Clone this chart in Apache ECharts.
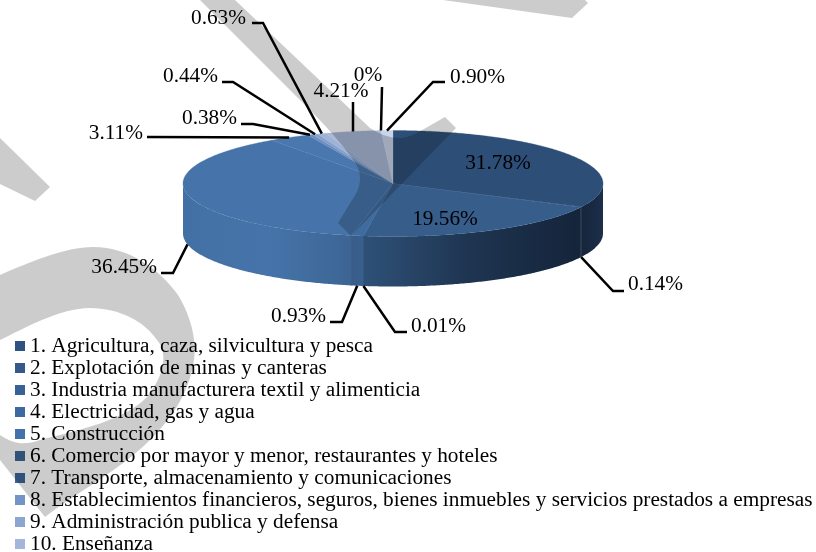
<!DOCTYPE html>
<html><head><meta charset="utf-8">
<style>html,body{margin:0;padding:0;background:#fff}#c{width:816px;height:552px}</style>
<script src="https://cdn.jsdelivr.net/npm/echarts@6/dist/echarts.min.js"></script>
</head><body><div id="c"></div>
<script>
// DATA
const legendNames = [
 '1. Agricultura, caza, silvicultura y pesca',
 '2. Explotación de minas y canteras',
 '3. Industria manufacturera textil y alimenticia',
 '4. Electricidad, gas y agua',
 '5. Construcción',
 '6. Comercio por mayor y menor, restaurantes y hoteles',
 '7. Transporte, almacenamiento y comunicaciones',
 '8. Establecimientos financieros, seguros, bienes inmuebles y servicios prestados a empresas',
 '9. Administración publica y defensa',
 '10. Enseñanza'];
const sliceValues = [31.78,0.14,19.56,0.01,0.93,36.45,3.11,0.38,0.44,0.63,4.21,0,0.90];
const sliceLabels = ['31.78%','0.14%','19.56%','0.01%','0.93%','36.45%','3.11%','0.38%','0.44%','0.63%','4.21%','0%','0.90%'];

// STYLE / LAYOUT
const FONT='"Liberation Serif","Times New Roman",serif', FS=21.3;
const topColors=['#2c4e77','#2f5380','#375d8b','#3a6393','#3f6c9f','#4674aa','#4a78ae','#6b8dc0','#86a0cc','#9eb3d6','#a9b8d6','#bcc9e0','#c8d4e8'];
const legendColors=['#2e5380','#335a8b','#386297','#3d69a0','#4272ac','#3d6595','#3c6598','#7394c5','#8ba6d0','#a3b7d9'];
const sideStops=[['#15253c','#182a42','#1c2f49'],['#15253c','#15253c','#15253c'],['#2e5178','#1e3450','#14243a'],['#2f5379','#2f5379','#2f5379'],['#395e8c','#395e8c','#3a608f'],['#4370a4','#4674aa','#3c6593'],['#4370a4','#4370a4','#4370a4'],['#5a7fb0','#5a7fb0','#5a7fb0'],['#7a95c0','#7a95c0','#7a95c0'],['#8fa6cc','#8fa6cc','#8fa6cc'],['#9aacce','#9aacce','#9aacce'],['#aebcd6','#aebcd6','#aebcd6'],['#bac8de','#bac8de','#bac8de']];
const CX=393, CY=183.5, RX=210, RY=53, DEPTH=50;
// per slice: leader elbow points (from the rim outward), text anchor
const labelLayout=[
 {text:[498,163],align:'center'},
 {pts:[[613,291],[624,291]],text:[628,284],align:'left'},
 {text:[445,219],align:'center'},
 {pts:[[395,332],[407,332]],text:[411,326],align:'left'},
 {pts:[[342,322],[330,322]],text:[326,316],align:'right'},
 {pts:[[173,273],[161,273]],text:[157,267],align:'right'},
 {pts:[[147,137]],text:[143,133],align:'right'},
 {pts:[[253,124],[241,124]],text:[237,118],align:'right'},
 {pts:[[233,82],[222,82]],text:[218,76],align:'right'},
 {pts:[[263,23],[252,23]],text:[246,18],align:'right'},
 {pts:[[353,102]],text:[341,91],align:'center'},
 {pts:[[382,87]],text:[368,75],align:'center'},
 {pts:[[433,82],[445,82]],text:[450,77],align:'left'}];
const watermark=[
 'M443,0 L572,18 L588,3 L585,0 Z',
 'M200,0 L235,0 L370,128 Q395,145 417,133 L445,117 L456,128 L351,236 L338,223 L352,200 Q368,178 352,158 Q335,135 310,110 Z',
 'M0,138 L50,187 L35,201 L0,184 Z',
 'M0,275 C30,262 65,247 93,247 C130,247 160,270 178,295 C192,318 198,345 193,365 C188,395 170,420 150,440 C120,470 80,490 45,517 L0,460 L0,435 C15,445 25,445 40,440 C80,430 125,420 147,397 C165,375 168,352 157,340 C145,322 120,308 90,308 C60,308 25,328 0,340 Z'];

const total=sliceValues.reduce((a,b)=>a+b,0);
const pt=(a,dz)=>[CX+RX*Math.sin(a),CY-RY*Math.cos(a)+(dz||0)];
function renderSlice(i,api){
  const v=api.value(0);
  const before=sliceValues.slice(0,i).reduce((a,b)=>a+b,0);
  const a0=before/total*2*Math.PI, a1=(before+v)/total*2*Math.PI, mid=(a0+a1)/2;
  const children=[];
  const arc=(s,e,dz)=>{const n=Math.max(2,Math.ceil((e-s)/0.01));const r=[];for(let k=0;k<=n;k++)r.push(pt(s+(e-s)*k/n,dz));return r;};
  if(v>0){
    const fs=Math.max(a0,Math.PI/2), fe=Math.min(a1+0.004,Math.PI*1.5);
    if(fe>fs){
      const s=sideStops[i];
      children.push({type:'polygon',z2:1,shape:{points:arc(fs,fe,0).concat(arc(fs,fe,DEPTH).reverse())},
        style:{fill:new echarts.graphic.LinearGradient(0,0,1,0,[{offset:0,color:s[0]},{offset:.5,color:s[1]},{offset:1,color:s[2]}])}});
    }
    children.push({type:'polygon',z2:2,shape:{points:[[CX,CY]].concat(arc(a0,a1,0))},style:{fill:topColors[i],stroke:topColors[i],lineWidth:.3}});
  }
  const L=labelLayout[i];
  if(L.pts){
    const front=Math.cos(mid)<0;
    const start=pt(mid,front?DEPTH:0);
    children.push({type:'polyline',z2:3,shape:{points:[start].concat(L.pts)},style:{stroke:'#000',lineWidth:2.5,fill:'none'}});
  }
  children.push({type:'text',z2:4,style:{text:sliceLabels[i],x:L.text[0],y:L.text[1],align:L.align,verticalAlign:'middle',font:FS+'px '+FONT,fill:'#000'}});
  return {type:'group',children};
}
const seriesNames=sliceValues.map((_,i)=>legendNames[i]||('Serie '+(i+1)));
const chart=echarts.init(document.getElementById('c'),null,{renderer:'canvas'});
chart.setOption({
  backgroundColor:'#fff',animation:false,tooltip:{show:false},
  legend:{orient:'vertical',left:15,top:335,height:300,padding:0,itemGap:0,itemWidth:10,itemHeight:10,selectedMode:false,icon:'rect',
    textStyle:{fontFamily:FONT,fontSize:FS,color:'#000',lineHeight:22},
    data:legendNames.map((n,i)=>({name:n,icon:'rect',itemStyle:{color:legendColors[i]}}))},
  series:sliceValues.map((v,i)=>({type:'custom',name:seriesNames[i],coordinateSystem:'none',silent:true,z:2,
    itemStyle:{color:topColors[i]},data:[[v]],
    renderItem:(p,api)=>renderSlice(i,api)})).concat([{
      type:'custom',name:'watermark',coordinateSystem:'none',silent:true,z:100,blendMode:'multiply',data:[[0]],
      renderItem:()=>({type:'group',children:watermark.map(d=>({type:'path',shape:{pathData:d},style:{fill:'#cccccc'}}))})
    }])
});
</script></body></html>
